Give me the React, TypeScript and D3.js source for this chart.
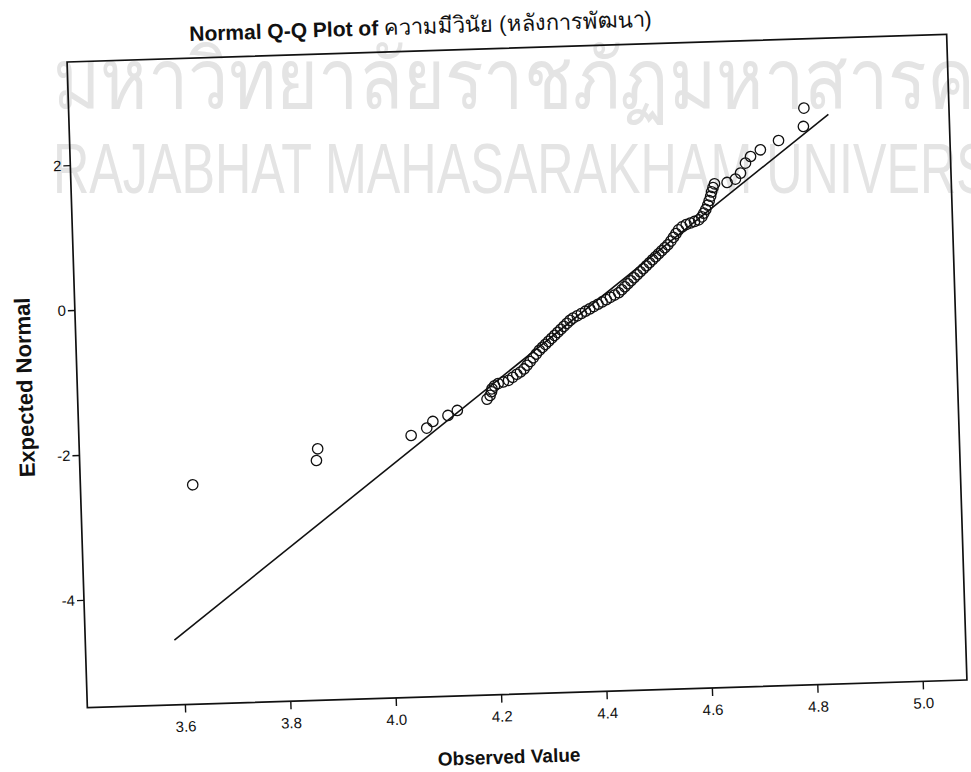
import React from 'react';
import * as d3 from 'd3';

const xTicks = [3.6, 3.8, 4.0, 4.2, 4.4, 4.6, 4.8, 5.0];
const yTicks = [2, 0, -2, -4];

const observed = [
  3.627, 3.863, 3.866, 4.044, 4.074, 4.086, 4.115, 4.133,
  4.190, 4.196, 4.199, 4.200, 4.205, 4.212, 4.222, 4.232, 4.240, 4.248,
  4.255, 4.262, 4.268, 4.274, 4.280, 4.286, 4.292, 4.298, 4.304, 4.310,
  4.316, 4.322, 4.328, 4.334, 4.340, 4.346, 4.352, 4.358, 4.366, 4.374,
  4.382, 4.390, 4.398, 4.406, 4.414, 4.422, 4.430, 4.438, 4.446, 4.452,
  4.458, 4.464, 4.470, 4.476, 4.482, 4.488, 4.494, 4.500, 4.506, 4.512,
  4.518, 4.524, 4.530, 4.536, 4.542, 4.548, 4.553, 4.558, 4.563, 4.570,
  4.578, 4.586, 4.594, 4.602, 4.608, 4.612, 4.616, 4.620, 4.623, 4.626,
  4.628, 4.631, 4.634,
  4.658, 4.674, 4.684, 4.694, 4.704, 4.723, 4.758, 4.806, 4.808,
];
const expected = [
  -2.453, -2.172, -2.011, -1.868, -1.773, -1.684, -1.608, -1.543,
  -1.40, -1.35, -1.30, -1.26, -1.22, -1.19, -1.17, -1.15, -1.11, -1.07,
  -1.04, -1.00, -0.95, -0.90, -0.85, -0.80, -0.75, -0.71, -0.67, -0.63,
  -0.59, -0.55, -0.51, -0.47, -0.43, -0.39, -0.35, -0.32, -0.29, -0.26,
  -0.23, -0.20, -0.17, -0.14, -0.11, -0.08, -0.05, -0.02, 0.01, 0.05,
  0.09, 0.13, 0.17, 0.21, 0.25, 0.29, 0.33, 0.37, 0.41, 0.45,
  0.49, 0.53, 0.57, 0.61, 0.65, 0.70, 0.75, 0.80, 0.85, 0.89,
  0.92, 0.94, 0.96, 0.98, 1.02, 1.07, 1.12, 1.18, 1.24, 1.30,
  1.36, 1.42, 1.47,
  1.483, 1.526, 1.606, 1.742, 1.831, 1.919, 2.039, 2.222, 2.475,
];

const lineObserved = [3.583, 4.854];
const lineMean = 4.42;
const lineSd = 0.1825;

const titleLatin = 'Normal Q-Q Plot of ';
const titleThai = 'ความมีวินัย (หลังการพัฒนา)';
const xLabel = 'Observed Value';
const yLabel = 'Expected Normal';
const watermarkThai = 'มหาวิทยาลัยราชภัฏมหาสารคาม';
const watermarkEng = 'RAJABHAT MAHASARAKHAM UNIVERSITY';

export default function App() {
  const W = 971;
  const H = 772;
  const fx0 = 77, fy0 = 48, fw = 880, fh = 646;
  const x = d3.scaleLinear().domain([3.414, 5.083]).range([fx0, fx0 + fw]);
  const y = d3.scaleLinear().domain([-5.48, 3.43]).range([fy0 + fh, fy0]);
  const line = d3.line<number>()
    .x((d) => x(d))
    .y((d) => y((d - lineMean) / lineSd));
  const pts = observed.map((v, i) => ({ v, e: expected[i] }));
  const font = '"Liberation Sans", Arial, "Noto Sans", sans-serif';

  return (
    <svg width={W} height={H} style={{ position: 'absolute', left: 0, top: 0, background: '#fff' }}>
      <rect x={0} y={0} width={W} height={H} fill="#fff" />
      <g fill="#e4e4e4" fontFamily={font}>
        <text x={53} y={108} fontSize={82} textLength={1010} lengthAdjust="spacingAndGlyphs">{watermarkThai}</text>
        <text x={53} y={193} fontSize={70} textLength={1015} lengthAdjust="spacingAndGlyphs">{watermarkEng}</text>
      </g>
      <g transform="rotate(-1.8, 517, 371)" fontFamily={font}>
        <text x={200} y={31} fontSize={21} fontWeight="bold" fill="#111">
          {titleLatin}<tspan fontWeight="normal" fontSize={22}>{titleThai}</tspan>
        </text>
        <rect x={fx0} y={fy0} width={fw} height={fh} fill="none" stroke="#111" strokeWidth={1.7} />
        {yTicks.map((t) => (
          <g key={'y' + t}>
            <line x1={fx0 - 7} x2={fx0} y1={y(t)} y2={y(t)} stroke="#111" strokeWidth={1.4} />
            <text x={fx0 - 9} y={y(t) + 5} fontSize={15} textAnchor="end" fill="#111">{t}</text>
          </g>
        ))}
        {xTicks.map((t) => (
          <g key={'x' + t}>
            <line x1={x(t)} x2={x(t)} y1={fy0 + fh} y2={fy0 + fh + 8} stroke="#111" strokeWidth={1.4} />
            <text x={x(t)} y={fy0 + fh + 27} fontSize={15} textAnchor="middle" fill="#111"
              fontFamily='"Liberation Sans Narrow", "Liberation Sans", Arial, sans-serif'>{t.toFixed(1)}</text>
          </g>
        ))}
        <path d={line(lineObserved) || ''} fill="none" stroke="#111" strokeWidth={1.6} />
        {pts.map((p, i) => (
          <circle key={i} cx={x(p.v)} cy={y(p.e)} r={5.2} fill="none" stroke="#111" strokeWidth={1.3} />
        ))}
        <text x={fx0 + fw / 2 - 20} y={763} fontSize={19} fontWeight="bold" textAnchor="middle" fill="#111">{xLabel}</text>
        <text transform={`translate(32, 372) rotate(-90)`} fontSize={22} fontWeight="bold" textAnchor="middle" fill="#111">{yLabel}</text>
      </g>
    </svg>
  );
}
